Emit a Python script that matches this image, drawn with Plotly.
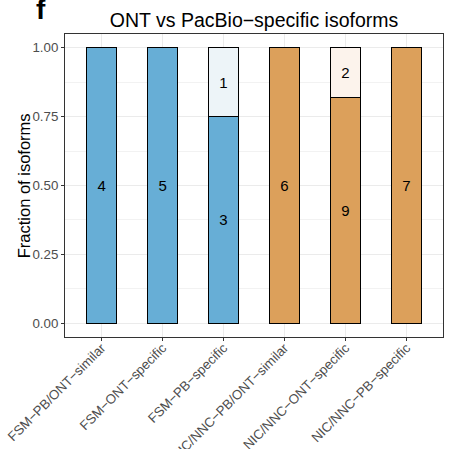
import plotly.graph_objects as go

categories = ["FSM−PB/ONT−similar", "FSM−ONT−specific", "FSM−PB−specific",
              "NIC/NNC−PB/ONT−similar", "NIC/NNC−ONT−specific", "NIC/NNC−PB−specific"]
main_counts = [4, 5, 3, 6, 9, 7]
other_counts = [0, 0, 1, 0, 2, 0]
main_colors = ["#67AED6", "#67AED6", "#67AED6", "#DCA05B", "#DCA05B", "#DCA05B"]
other_colors = ["#EDF4F8", "#EDF4F8", "#EDF4F8", "#FCF3EC", "#FCF3EC", "#FCF3EC"]
y_ticks = [0, 0.25, 0.5, 0.75, 1.0]
y_tick_labels = ["0.00", "0.25", "0.50", "0.75", "1.00"]

totals = [m + o for m, o in zip(main_counts, other_counts)]
main_frac = [m / t for m, t in zip(main_counts, totals)]
other_frac = [o / t for o, t in zip(other_counts, totals)]

fig = go.Figure()
fig.add_trace(go.Bar(
    x=categories, y=main_frac, width=0.5,
    marker=dict(color=main_colors, line=dict(color="black", width=1)),
    text=[str(v) if v else "" for v in main_counts],
    textposition="inside", insidetextanchor="middle",
    textfont=dict(size=15, color="black"), textangle=0,
    hoverinfo="skip",
))
fig.add_trace(go.Bar(
    x=categories, y=other_frac, width=0.5,
    marker=dict(color=other_colors, line=dict(color="black", width=1)),
    text=[str(v) if v else "" for v in other_counts],
    textposition="inside", insidetextanchor="middle",
    textfont=dict(size=15, color="black"), textangle=0,
    hoverinfo="skip",
))

fig.update_layout(
    barmode="stack",
    width=452, height=449,
    margin=dict(l=65, r=9, t=34, b=112),
    plot_bgcolor="white", paper_bgcolor="white",
    font=dict(family="Liberation Sans, Arial, sans-serif", color="black"),
    showlegend=False,
    uniformtext=dict(minsize=8, mode="show"),
    title=dict(text="ONT vs PacBio−specific isoforms", x=0.562, xanchor="center",
               y=0.9555, yanchor="middle", font=dict(size=19.5, color="black")),
    annotations=[
        dict(text="<b>f</b>", xref="paper", yref="paper",
             x=-0.0635, y=1.08, xanchor="center", yanchor="middle",
             showarrow=False, font=dict(size=28, color="black")),
        dict(text="Fraction of isoforms", xref="paper", yref="paper",
             x=-0.109, y=0.5, xanchor="center", yanchor="middle", textangle=-90,
             showarrow=False, font=dict(size=16.5, color="black")),
    ],
)
fig.update_xaxes(
    range=[-0.6, 5.6], tickangle=-45, automargin=False,
    tickfont=dict(size=13.3, color="#4D4D4D"), ticklabelstandoff=-6,
    showgrid=True, gridcolor="#EBEBEB", gridwidth=1,
    showline=True, mirror=True, linecolor="#333333", linewidth=1,
    ticks="outside", ticklen=3, tickcolor="#333333",
)
fig.update_yaxes(
    range=[-0.05, 1.05], tickvals=y_ticks, ticktext=y_tick_labels, automargin=False,
    tickfont=dict(size=13.3, color="#4D4D4D"),
    showgrid=True, gridcolor="#EBEBEB", gridwidth=1,
    minor=dict(dtick=0.125, tick0=0.125, showgrid=True, gridcolor="#F2F2F2", gridwidth=0.6),
    zeroline=False,
    showline=True, mirror=True, linecolor="#333333", linewidth=1,
    ticks="outside", ticklen=3, tickcolor="#333333",
)

fig.write_html("out.html", config={"displayModeBar": False},
               post_script="document.body.style.margin='0';")
